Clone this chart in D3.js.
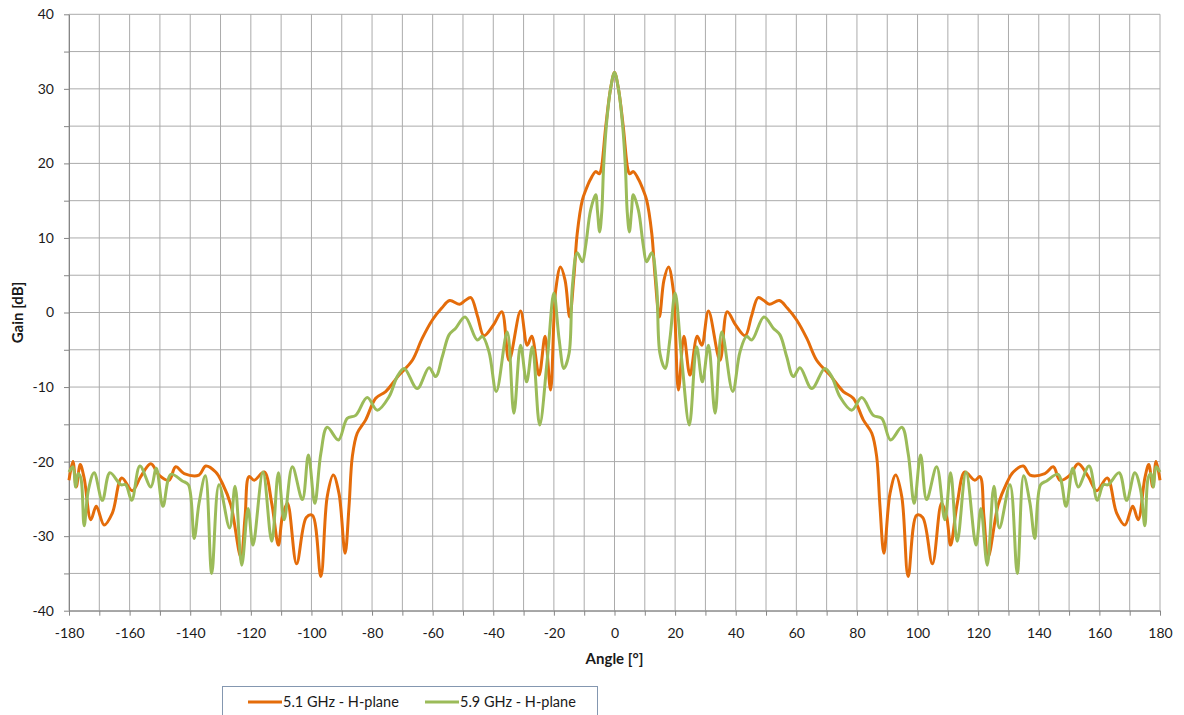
<!DOCTYPE html>
<html>
<head>
<meta charset="utf-8">
<script src="https://cdn.jsdelivr.net/npm/d3@7"></script>
<style>
  body { margin: 0; background: #fff; }
  text { font-family: Lato, "Liberation Sans", sans-serif; fill: #1a1a1a; }
</style>
</head>
<body>
<div id="my_dataviz"></div>
<script>
// series names and colours
const seriesNames = ["5.1 GHz - H-plane", "5.9 GHz - H-plane"];
const seriesColors = ["#E46C0A", "#9BBB59"];

// 5.1 GHz - H-plane
const angle51 = [-180, -178.7, -177.6, -176.3, -175.0, -172.8, -171.0, -168.4, -165.7, -162.6, -159.1, -156.3, -153.0, -150.3,
  -147.0, -144.8, -142.0, -137.1, -134.9, -131.6, -129.4, -126.6, -123.3, -121.9, -120.6, -118.9, -115.6, -113.1, -110.9,
  -109.6, -107.9, -104.9, -101.7, -99.7, -96.9, -94.8, -92.8, -90.9, -88.9, -87.6, -86.5, -84.9, -82.1, -78.8, -75.5, -71.1,
  -66.7, -63.5, -60.1, -57.0, -54.4, -51.1, -49.3, -47.4, -45.2, -43.1, -40.0, -37.2, -34.8, -31.0, -28.8, -27.3, -24.9,
  -22.9, -21.1, -19.4, -17.8, -16.3, -14.8, -13.4, -12.3, -10.6, -9.5, -8.0, -6.2, -5.0, -4.4, -2.9, -1.3, 0,
  1.3, 2.9, 4.4, 5.0, 6.2, 8.0, 9.5, 10.6, 12.3, 13.4, 14.8, 16.3, 17.8, 19.4, 21.1, 22.9, 24.9, 27.3, 28.8, 31.0, 34.8,
  37.2, 40.0, 43.1, 45.2, 47.4, 49.3, 51.1, 54.4, 57.0, 60.1, 63.5, 66.7, 71.1, 75.5, 78.8, 82.1, 84.9, 86.5, 87.6, 88.9,
  90.9, 92.8, 94.8, 96.9, 99.7, 101.7, 104.9, 107.9, 109.6, 110.9, 113.1, 115.6, 118.9, 120.6, 121.9, 123.3, 126.6, 129.4,
  131.6, 134.9, 137.1, 142.0, 144.8, 147.0, 150.3, 153.0, 156.3, 159.1, 162.6, 165.7, 168.4, 171.0, 172.8, 175.0, 176.3,
  177.6, 178.7, 180];
const gain51 = [-22.5, -20.0, -23.4, -20.4, -22.2, -27.8, -26.0, -28.5, -26.9, -22.2, -23.9, -22.0, -20.3, -21.8,
  -22.5, -20.7, -21.6, -21.8, -20.6, -21.4, -22.9, -25.8, -32.8, -27.4, -22.0, -22.5, -21.4, -25.6, -31.2,
  -27.4, -25.6, -33.7, -27.5, -27.2, -35.4, -24.7, -21.8, -24.3, -32.3, -26.0, -19.3, -16.2, -14.4, -11.5, -10.6, -8.4,
  -6.4, -3.5, -1.0, 0.6, 1.6, 1.1, 1.6, 2.0, -0.5, -3.1, -1.7, 0.1, -6.4, 0.2, -4.4, -3.2, -8.4,
  -3.2, -10.4, 3.0, 6.1, 4.3, -0.6, 4.8, 10.6, 15.1, 16.4, 17.8, 18.9, 18.6, 19.2, 24.9, 30.0, 32.2,
  30.0, 24.9, 19.2, 18.6, 18.9, 17.8, 16.4, 15.1, 10.6, 4.8, -0.6, 4.3, 6.1, 3.0, -10.4, -3.2, -8.4, -3.2, -4.4, 0.2, -6.4,
  0.1, -1.7, -3.1, -0.5, 2.0, 1.6, 1.1, 1.6, 0.6, -1.0, -3.5, -6.4, -8.4, -10.6, -11.5, -14.4, -16.2, -19.3, -26.0, -32.3,
  -24.3, -21.8, -24.7, -35.4, -27.2, -27.5, -33.7, -25.6, -27.4, -31.2, -25.6, -21.4, -22.5, -22.0, -27.4, -32.8, -25.8, -22.9,
  -21.4, -20.6, -21.8, -21.6, -20.7, -22.5, -21.8, -20.3, -22.0, -23.9, -22.2, -26.9, -28.5, -26.0, -27.8, -22.2, -20.4,
  -23.4, -20.0, -22.5];

// 5.9 GHz - H-plane
const angle59 = [-180, -178.7, -177.8, -177.0, -176.1, -175.0, -173.6, -171.7, -169.0, -166.5, -162.9, -161.3, -159.3, -156.6,
  -153.0, -151.2, -149.0, -146.4, -142.6, -140.6, -138.7, -137.1, -135.0, -132.9, -130.5, -127.0, -125.2, -123.0, -120.9,
  -119.3, -116.0, -113.1, -110.9, -109.0, -106.3, -103.0, -101.0, -98.9, -96.9, -94.8, -91.1, -88.2, -85.4, -81.6, -78.3,
  -74.4, -71.7, -69.4, -65.1, -61.2, -59.0, -56.8, -54.6, -52.4, -49.3, -45.3, -43.6, -41.4, -39.0, -35.4, -33.2, -31.0,
  -29.0, -27.1, -24.7, -22.2, -20.0, -18.3, -16.7, -15.0, -13.9, -12.3, -10.6, -9.5, -7.9, -6.2, -5.6, -4.9, -4.2, -3.6,
  -2.7, -1.3, 0,
  1.3, 2.7, 3.6, 4.2, 4.9, 5.6, 6.2, 7.9, 9.5, 10.6, 12.3, 13.9, 15.0, 16.7, 18.3, 20.0, 22.2, 24.7, 27.1, 29.0, 31.0,
  33.2, 35.4, 39.0, 41.4, 43.6, 45.3, 49.3, 52.4, 54.6, 56.8, 59.0, 61.2, 65.1, 69.4, 71.7, 74.4, 78.3, 81.6, 85.4, 88.2,
  91.1, 94.8, 96.9, 98.9, 101.0, 103.0, 106.3, 109.0, 110.9, 113.1, 116.0, 119.3, 120.9, 123.0, 125.2, 127.0, 130.5, 132.9,
  135.0, 137.1, 138.7, 140.6, 142.6, 146.4, 149.0, 151.2, 153.0, 156.6, 159.3, 161.3, 162.9, 166.5, 169.0, 171.7, 173.6,
  175.0, 176.1, 177.0, 177.8, 178.7, 180];
const gain59 = [-21.4, -20.7, -23.4, -21.6, -22.2, -28.6, -23.8, -21.5, -25.2, -21.5, -23.1, -23.1, -25.2, -20.6,
  -23.4, -20.9, -26.0, -21.7, -22.6, -23.1, -30.3, -25.6, -21.9, -35.0, -23.1, -28.9, -23.3, -33.9, -26.3,
  -31.2, -21.4, -30.7, -21.5, -27.8, -20.7, -25.1, -19.1, -25.6, -18.9, -15.4, -17.1, -14.2, -13.8, -11.4, -13.1,
  -11.3, -8.6, -7.5, -10.2, -7.4, -8.6, -5.9, -3.0, -2.1, -0.6, -3.7, -3.2, -5.3, -10.6, -2.6, -13.5, -4.4,
  -9.3, -4.6, -15.1, -6.4, 2.6, -3.5, -7.5, -5.5, 3.5, 8.0, 6.8, 9.0, 13.7, 15.8, 13.5, 10.8, 13.5, 19.5,
  25.0, 30.0, 32.2,
  30.0, 25.0, 19.5, 13.5, 10.8, 13.5, 15.8, 13.7, 9.0, 6.8, 8.0, 3.5, -5.5, -7.5, -3.5, 2.6, -6.4, -15.1, -4.6, -9.3, -4.4,
  -13.5, -2.6, -10.6, -5.3, -3.2, -3.7, -0.6, -2.1, -3.0, -5.9, -8.6, -7.4, -10.2, -7.5, -8.6, -11.3, -13.1, -11.4, -13.8, -14.2,
  -17.1, -15.4, -18.9, -25.6, -19.1, -25.1, -20.7, -27.8, -21.5, -30.7, -21.4, -31.2, -26.3, -33.9, -23.3, -28.9, -23.1, -35.0,
  -21.9, -25.6, -30.3, -23.1, -22.6, -21.7, -26.0, -20.9, -23.4, -20.6, -25.2, -23.1, -23.1, -21.5, -25.2, -21.5, -23.8,
  -28.6, -22.2, -21.6, -23.4, -20.7, -21.4];

const series = [
  d3.zip(angle51, gain51),
  d3.zip(angle59, gain59)
];

// axis ticks
const xTicks = d3.range(-180, 181, 10);
const yTicks = d3.range(-40, 41, 5);

const W = 1184, H = 715;
const plot = { left: 69, right: 1160, top: 14.3, bottom: 610.7 };

const svg = d3.select("#my_dataviz")
  .append("svg")
  .attr("width", W)
  .attr("height", H);

const x = d3.scaleLinear().domain([-180, 180]).range([plot.left, plot.right]);
const y = d3.scaleLinear().domain([-40, 40]).range([plot.bottom, plot.top]);

// grid
svg.append("g")
  .selectAll("line")
  .data(xTicks)
  .join("line")
  .attr("x1", d => x(d)).attr("x2", d => x(d))
  .attr("y1", plot.top).attr("y2", plot.bottom)
  .attr("stroke", "#ababab");

svg.append("g")
  .selectAll("line")
  .data(yTicks)
  .join("line")
  .attr("x1", plot.left).attr("x2", plot.right)
  .attr("y1", d => y(d)).attr("y2", d => y(d))
  .attr("stroke", "#ababab");

// axes
const yAxis = svg.append("g")
  .attr("transform", `translate(${plot.left},0)`)
  .call(d3.axisLeft(y).tickValues(yTicks).tickSize(5).tickSizeOuter(0).tickPadding(10)
    .tickFormat(d => d % 10 === 0 ? d : ""));

const xAxis = svg.append("g")
  .attr("transform", `translate(0,${plot.bottom})`)
  .call(d3.axisBottom(x).tickValues(xTicks).tickSize(5).tickSizeOuter(0).tickPadding(12)
    .tickFormat(d => d % 20 === 0 ? d : ""));

[xAxis, yAxis].forEach(a => {
  a.select(".domain").attr("stroke", "#868686");
  a.selectAll(".tick line").attr("stroke", "#868686");
  a.selectAll(".tick text")
    .style("font-family", "Lato, 'Liberation Sans', sans-serif")
    .style("font-size", "14px")
    .attr("fill", "#1a1a1a");
});

// lines
const line = d3.line()
  .x(d => x(d[0]))
  .y(d => y(d[1]))
  .curve(d3.curveCatmullRom.alpha(0.5));

svg.append("g")
  .selectAll("path")
  .data(series)
  .join("path")
  .attr("d", line)
  .attr("fill", "none")
  .attr("stroke", (d, i) => seriesColors[i])
  .attr("stroke-width", 3)
  .attr("stroke-linejoin", "round");

// axis titles
svg.append("text")
  .attr("transform", `translate(23,${(plot.top + plot.bottom) / 2}) rotate(-90)`)
  .attr("text-anchor", "middle")
  .style("font-size", "15px")
  .style("font-weight", "bold")
  .text("Gain [dB]");

svg.append("text")
  .attr("x", x(0))
  .attr("y", 664)
  .attr("text-anchor", "middle")
  .style("font-size", "15px")
  .style("font-weight", "bold")
  .text("Angle [°]");

// legend
const legend = svg.append("g");
legend.append("rect")
  .attr("x", 222.5).attr("y", 686.5)
  .attr("width", 375).attr("height", 40)
  .attr("fill", "#fff")
  .attr("stroke", "#8497b0");

const legendX = [248, 425];
seriesNames.forEach((name, i) => {
  legend.append("line")
    .attr("x1", legendX[i]).attr("x2", legendX[i] + 34)
    .attr("y1", 702).attr("y2", 702)
    .attr("stroke", seriesColors[i])
    .attr("stroke-width", 3);
  legend.append("text")
    .attr("x", legendX[i] + 35)
    .attr("y", 707)
    .style("font-size", "14.5px")
    .text(name);
});
</script>
</body>
</html>
